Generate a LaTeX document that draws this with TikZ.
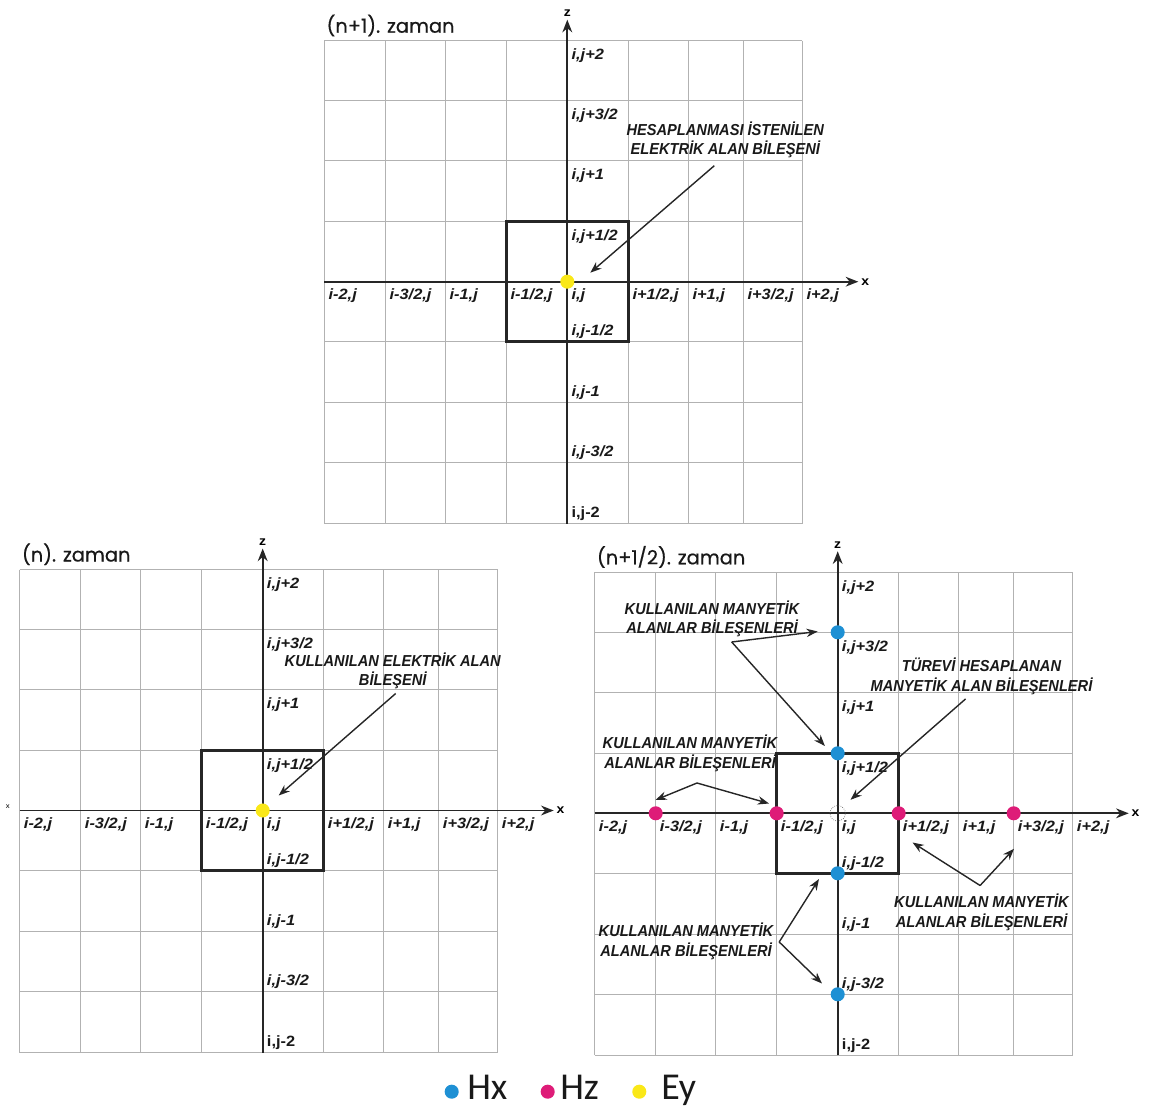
\documentclass[tikz,border=0pt]{standalone}
\usepackage{fontspec}
\usepackage{tikz}
\usetikzlibrary{arrows.meta}
\setmainfont{Liberation Sans}
\newfontfamily\labfont[FakeStretch=1.1]{Liberation Sans}
\newfontfamily\notefont[FakeStretch=0.92]{Liberation Sans}
\newfontfamily\titlefont[FakeBold=0.6]{Poppins}
\newfontfamily\legfont{Carlito}
\definecolor{hxblue}{RGB}{30,144,212}
\definecolor{hzpink}{RGB}{222,28,120}
\definecolor{eyyellow}{RGB}{250,232,24}
% one Yee cell grid: #1 name prefix, #2 title
\newcommand{\yeegrid}[2]{%
  \foreach \gx in {-243,-182,-122,-61,0,61,121,176,235}
    \draw[gridline] (\gx,-241) -- (\gx,242);
  \foreach \gy in {-241,-181,-121,-60,0,60,121,181,242}
    \draw[gridline] (-243,\gy) -- (235,\gy);
  \draw[cellbox] (-61,-60) rectangle (61,60);
  \draw[axisline] (-243,0) -- (291,0) node[axlab, right] (#1-xax) {x};
  \draw[axisline] (0,242) -- (0,-262) node[axlab, above] (#1-zax) {z};
  \foreach \gx/\lab [count=\k] in {-243/{i-2,j},-182/{i-3/2,j},-122/{i-1,j},-61/{i-1/2,j},0/{i,j},61/{i+1/2,j},121/{i+1,j},176/{i+3/2,j},235/{i+2,j}}
    \node[ijlab] (#1-x\k) at (\gx+4,18) {\lab};
  \foreach \gy/\lab [count=\k] in {-241/{i,j+2},-181/{i,j+3/2},-121/{i,j+1},-60/{i,j+1/2}}
    \node[ijlab] (#1-zp\k) at (4,\gy+19) {\lab};
  \foreach \gy/\lab [count=\k] in {60/{i,j-1/2},121/{i,j-1},181/{i,j-3/2}}
    \node[ijlab] (#1-zm\k) at (4,\gy-6) {\lab};
  \node[ijlab, font=\labfont\bfseries\fontsize{10.6}{12}\selectfont] (#1-zm4) at (4,236) {i,j-2};
  \node[zamantitle] (#1-title) at (-241,-249) {#2};
}

\begin{document}
\begin{tikzpicture}[x=0.025cm, y=-0.025cm,
    gridline/.style={draw=black!30, line width=0.6pt},
    cellbox/.style={draw=black!85, line width=2.2pt},
    axisline/.style={draw=black!85, line width=1.2pt, -{Stealth[length=9pt,width=7pt]}},
    notearrow/.style={draw=black!85, line width=1pt, -{Stealth[length=8pt,width=6pt]}},
    ijlab/.style={anchor=base west, inner sep=0pt, text=black!90,
      font=\labfont\bfseries\itshape\fontsize{10.6}{12}\selectfont},
    axlab/.style={inner sep=1.5pt, font=\labfont\bfseries\fontsize{9}{10}\selectfont},
    noteblock/.style={align=center, inner sep=0pt, text=black!90,
      font=\notefont\bfseries\itshape\fontsize{11.3}{13.9}\selectfont},
    zamantitle/.style={anchor=base west, inner sep=0pt, text=black!90,
      font=\titlefont\fontsize{13.8}{15}\selectfont},
    fielddot/.style={circle, inner sep=0pt, minimum size=10pt},
    hx/.style={fielddot, fill=hxblue},
    hz/.style={fielddot, fill=hzpink},
    ey/.style={fielddot, fill=eyyellow},
    legtext/.style={anchor=base west, inner sep=0pt, text=black!90,
      font=\legfont\fontsize{27}{30}\selectfont}
    ]
\useasboundingbox (0,0) rectangle (1153,1112);

% (n+1). zaman
\begin{scope}[shift={(567.3,281.7)}]
  \yeegrid{t}{(n+1). zaman}
  \node[ey] (t-ey) at (0,0) {};
  \node[noteblock] (t-note) at (158,-142) {HESAPLANMASI İSTENİLEN\\ELEKTRİK ALAN BİLEŞENİ};
  \coordinate (t-from) at (147,-116);
  \coordinate (t-to) at (23,-9);
  \draw[notearrow] (t-from) -- (t-to);
\end{scope}

% (n). zaman
\begin{scope}[shift={(262.7,810.5)}]
  \yeegrid{l}{(n). zaman}
  \node[inner sep=0pt, font=\labfont\fontsize{5}{6}\selectfont] (l-xend) at (-255,-4) {x};
  \node[ey] (l-ey) at (0,0) {};
  \node[noteblock] (l-note) at (130,-139.5) {KULLANILAN ELEKTRİK ALAN\\BİLEŞENİ};
  \coordinate (l-from) at (133,-117);
  \coordinate (l-to) at (16,-15);
  \draw[notearrow] (l-from) -- (l-to);
\end{scope}

% (n+1/2). zaman
\begin{scope}[shift={(837.7,813.3)}]
  \yeegrid{r}{(n+1/2). zaman}
  \node[circle, draw=black!60, densely dotted, line width=0.5pt, minimum size=11pt, inner sep=0pt] (r-ctr) at (0,0) {};
  \foreach \p [count=\k] in {-181,-60,60,181}
    \node[hx] (r-hx\k) at (0,\p) {};
  \foreach \p [count=\k] in {-182,-61,61,176}
    \node[hz] (r-hz\k) at (\p,0) {};
  % upper Hx
  \node[noteblock] (r-noteA) at (-125.7,-194.3) {KULLANILAN MANYETİK\\ALANLAR BİLEŞENLERİ};
  \coordinate (r-vA) at (-106,-171.3);
  \coordinate (r-tA1) at (-20,-181.8);
  \coordinate (r-tA2) at (-12.8,-67.3);
  \draw[notearrow] (r-vA) -- (r-tA1);
  \draw[notearrow] (r-vA) -- (r-tA2);
  % derivative
  \node[noteblock] (r-noteB) at (143.8,-136.8) {TÜREVİ HESAPLANAN\\MANYETİK ALAN BİLEŞENLERİ};
  \coordinate (r-vB) at (127.9,-114.4);
  \coordinate (r-tB) at (12.8,-13.5);
  \draw[notearrow] (r-vB) -- (r-tB);
  % left Hz
  \node[noteblock] (r-noteC) at (-147.7,-59.8) {KULLANILAN MANYETİK\\ALANLAR BİLEŞENLERİ};
  \coordinate (r-vC) at (-140.7,-30.3);
  \coordinate (r-tC1) at (-182.2,-13.3);
  \coordinate (r-tC2) at (-68.7,-9.8);
  \draw[notearrow] (r-vC) -- (r-tC1);
  \draw[notearrow] (r-vC) -- (r-tC2);
  % right Hz
  \node[noteblock] (r-noteD) at (143.8,99.2) {KULLANILAN MANYETİK\\ALANLAR BİLEŞENLERİ};
  \coordinate (r-vD) at (142.4,72.2);
  \coordinate (r-tD1) at (74.8,29.2);
  \coordinate (r-tD2) at (176.3,35.5);
  \draw[notearrow] (r-vD) -- (r-tD1);
  \draw[notearrow] (r-vD) -- (r-tD2);
  % lower Hx
  \node[noteblock] (r-noteE) at (-151.7,128.2) {KULLANILAN MANYETİK\\ALANLAR BİLEŞENLERİ};
  \coordinate (r-vE) at (-58.5,128.7);
  \coordinate (r-tE1) at (-18.7,65.7);
  \coordinate (r-tE2) at (-15.7,170.2);
  \draw[notearrow] (r-vE) -- (r-tE1);
  \draw[notearrow] (r-vE) -- (r-tE2);
\end{scope}

% legend
\node[hx] (leg-hx) at (451.7,1091.7) {};
\node[legtext] (leg-hxt) at (467,1099.3) {Hx};
\node[hz] (leg-hz) at (547.7,1091.7) {};
\node[legtext] (leg-hzt) at (560,1099.3) {Hz};
\node[ey] (leg-ey) at (639.3,1091.7) {};
\node[legtext] (leg-eyt) at (661,1099.3) {Ey};
\end{tikzpicture}
\end{document}
